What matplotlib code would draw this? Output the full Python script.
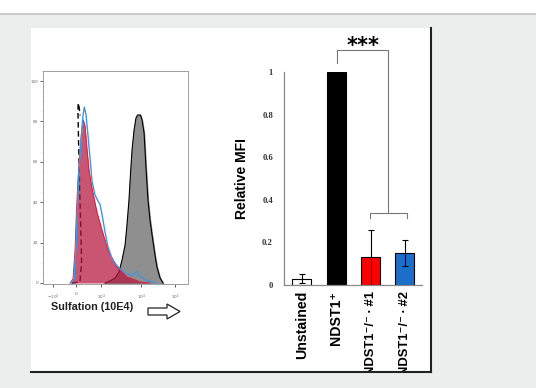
import matplotlib
matplotlib.use("Agg")
import matplotlib.pyplot as plt
from matplotlib.patches import Rectangle, Polygon
from matplotlib.lines import Line2D
from matplotlib.ticker import MultipleLocator

# --- histogram data (x: channel scale 0-100, y: % of max) ---
gray_x = [42.8, 46.2, 49.7, 52.4, 54.5, 56.6, 57.9, 59.3, 60.3, 61.4, 62.8, 64.1, 65.2,
          67.2, 68.3, 69.7, 71.0, 72.4, 73.8, 75.2, 77.2, 78.6, 80.7, 82.8]
gray_y = [0, 1.0, 2.5, 5.4, 11.4, 18.8, 28.7, 41.1, 53.5, 65.8, 75.7, 81.7, 83.2,
          83.2, 80.7, 74.3, 57.4, 41.1, 31.2, 23.8, 13.9, 7.9, 2.5, 0]

red_x = [18.6, 20.7, 22.1, 23.1, 24.1, 25.5, 26.9, 27.8, 29.0, 30.1, 31.7, 33.8, 37.2,
         40.7, 44.8, 51.0, 57.9, 66.9, 73.8]
red_y = [0, 2.0, 16.3, 36.1, 51.0, 65.8, 76.7, 80.7, 77.7, 68.3, 55.9, 47.0, 35.1,
         26.2, 16.3, 7.9, 3.0, 0.5, 0]

blue_x = [19.3, 21.4, 22.8, 23.8, 24.8, 26.2, 27.6, 28.5, 29.7, 31.0, 32.4, 33.8, 35.9,
          37.9, 39.3, 40.7, 42.8, 44.8, 47.6, 51.0, 54.5, 57.9, 61.4, 63.4, 64.8, 66.2,
          70.3, 77.2]
blue_y = [0, 2.0, 18.8, 38.6, 55.9, 70.8, 83.2, 87.1, 83.2, 73.3, 62.0, 50.5, 43.6,
          40.6, 39.0, 34.0, 25.2, 18.0, 12.0, 8.6, 6.2, 4.5, 3.5, 5.0, 5.9, 4.0,
          1.5, 0]

unst_x = [20.0, 25.5, 26.6, 26.1, 25.5, 25.0, 24.5, 24.1, 24.3, 24.8, 25.6]
unst_y = [0, 0.5, 10.4, 26.2, 41.1, 55.9, 70.8, 85.6, 89.1, 87.6, 83.0]

hist_xticks = [6.9, 22.8, 40.0, 67.6, 91.0]
hist_xlabels = [r"$-10^3$", "0", r"$10^3$", r"$10^4$", r"$10^5$"]

# --- bar chart data ---
groups = ["Unstained", "NDST1\u207a",
          "NDST1\u207b/\u207b\u2009\u00b7\u2009#1", "NDST1\u207b/\u207b\u2009\u00b7\u2009#2"]
mfi = [0.03, 1.0, 0.13, 0.15]
mfi_err = [0.02, 0.0, 0.13, 0.06]
bar_colors = ["white", "black", "#ff0000", "#1b6fc8"]

W, H = 536, 388
BG = "#eceeed"

fig = plt.figure(figsize=(W / 100, H / 100), dpi=100, facecolor=BG)
inch = fig.dpi_scale_trans

# top white strip + separator line
fig.add_artist(Rectangle((0, (H - 13) / 100), W / 100, 13 / 100, transform=inch,
                         facecolor="white", edgecolor="none", zorder=-2))
fig.add_artist(Line2D([0, W / 100], [(H - 13.5) / 100] * 2, transform=inch,
                      color="#c8c8c8", lw=1.3, zorder=-1))
# white panel
fig.add_artist(Rectangle((31 / 100, (H - 371) / 100), 399 / 100, 343 / 100, transform=inch,
                         facecolor="white", edgecolor="none", zorder=-1))

# ---------------- histogram ----------------
ax1 = fig.add_axes([43 / W, 1 - 284 / H, 145 / W, 213 / H])
ax1.set_facecolor("white")
ax1.fill_between(gray_x, gray_y, color="#8f8f8f", zorder=2)
ax1.plot(gray_x, gray_y, color="black", lw=0.8, zorder=3)
ax1.plot(unst_x, unst_y, color="black", lw=1.0, ls=(0, (4, 2.5)), zorder=3)
ax1.fill_between(red_x, red_y, color="#b4143c", alpha=0.72, lw=0, zorder=4)
ax1.plot(red_x, red_y, color="#d02040", lw=0.7, zorder=4)
ax1.plot(blue_x, blue_y, color="#4394dc", lw=1.0, zorder=5)
ax1.set_xlim(0, 100)
ax1.set_ylim(-0.5, 105)
for s in ax1.spines.values():
    s.set_color("#a0a0a0")
    s.set_linewidth(0.7)
ax1.set_xticks(hist_xticks)
ax1.set_xticklabels(hist_xlabels, fontsize=3, color="#666")
ax1.set_yticks([0, 20, 40, 60, 80, 100])
ax1.set_yticklabels(["0", "20", "40", "60", "80", "100"], fontsize=3, color="#666")
ax1.yaxis.set_minor_locator(MultipleLocator(5))
ax1.tick_params(axis="both", which="major", length=2, width=0.6, color="#444", pad=1.5)
ax1.tick_params(axis="both", which="minor", length=1, width=0.4, color="#999")
ax1.tick_params(axis="x", pad=4)

fig.text(92 / W, 1 - 307 / H, "Sulfation (10E4)", ha="center", va="center",
         fontsize=7.8, fontweight="bold", family="Liberation Sans", color="#222")
arrow_px = [(148, 308), (167, 308), (167, 304), (180, 311.5), (167, 319), (167, 315), (148, 315)]
fig.add_artist(Polygon([(x / 100, (H - y) / 100) for x, y in arrow_px], closed=True,
                       transform=inch, facecolor="white", edgecolor="#222", lw=0.9))

# ---------------- bar chart ----------------
ax2 = fig.add_axes([284 / W, 1 - 285 / H, 138 / W, 213 / H])
ax2.patch.set_alpha(0)
pos = list(range(len(groups)))
ax2.bar(pos, mfi, width=0.55, color=bar_colors, edgecolor="black", lw=0.8,
        yerr=mfi_err, capsize=2.5,
        error_kw=dict(ecolor="black", elinewidth=0.8, capthick=0.8))
ax2.set_xlim(-0.52, 3.5)
ax2.set_ylim(0, 1)
for side in ["top", "right"]:
    ax2.spines[side].set_visible(False)
for side in ["left", "bottom"]:
    ax2.spines[side].set_color("#8a8a8a")
    ax2.spines[side].set_linewidth(0.9)
ax2.set_yticks([0, 0.2, 0.4, 0.6, 0.8, 1.0])
ax2.set_yticklabels(["0", "0.2", "0.4", "0.6", "0.8", "1"], fontsize=6.2,
                    family="Liberation Serif", fontweight="bold", color="#333")
ax2.set_xticks(pos)
ax2.set_xticklabels(groups, rotation=90, fontsize=10.2, fontweight="bold",
                    family=["Liberation Sans", "DejaVu Sans"], va="top", ha="center")
for lbl in ax2.get_xticklabels()[2:]:
    lbl.set_fontsize(9.4)
ax2.tick_params(axis="both", length=0)
ax2.tick_params(axis="y", pad=8)
ax2.tick_params(axis="x", pad=4)
ax2.set_ylabel("Relative MFI", fontsize=10, fontweight="bold", family="Liberation Sans")
ax2.yaxis.set_label_coords(-0.254, 0.5)

# significance brackets
ax2.plot([1.03, 1.03, 2.52, 2.52], [1.04, 1.103, 1.103, 0.338], color="#777", lw=0.8,
         clip_on=False)
ax2.plot([1.98, 1.98, 3.05, 3.05], [0.315, 0.338, 0.338, 0.315], color="#777", lw=0.8,
         clip_on=False)
ax2.text(1.78, 1.12, "***", ha="center", va="center", fontsize=15, fontweight="bold",
         family="DejaVu Sans", clip_on=False)

# cover below the panel (clips long tick labels) + dark borders
fig.add_artist(Rectangle((0, 0), W / 100, (H - 372) / 100, transform=inch,
                         facecolor=BG, edgecolor="none", zorder=5))
fig.add_artist(Line2D([31 / 100, 431 / 100], [(H - 371.5) / 100] * 2, transform=inch,
                      color="#222", lw=1.5, zorder=6))
fig.add_artist(Line2D([430.5 / 100] * 2, [(H - 28) / 100, (H - 372) / 100], transform=inch,
                      color="#222", lw=1.5, zorder=6))

plt.savefig("out.png", dpi=100, facecolor=BG)
